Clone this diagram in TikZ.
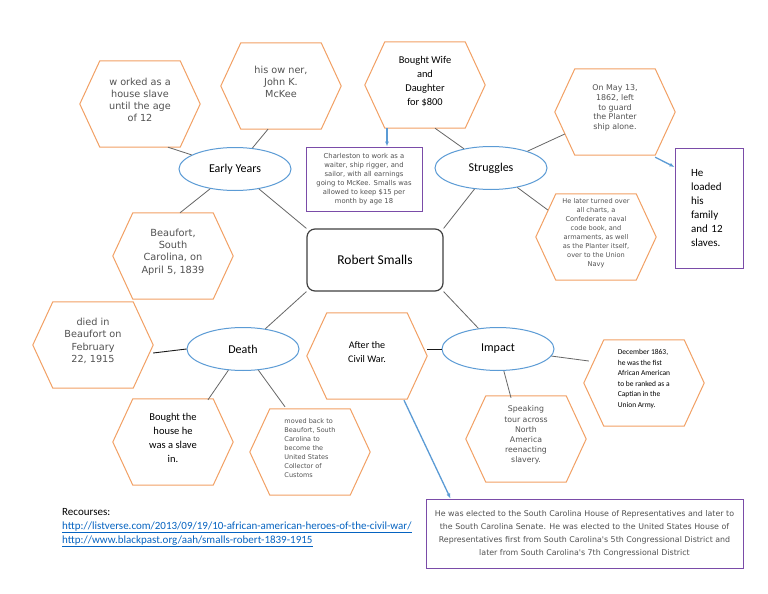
\documentclass[tikz,border=0pt]{standalone}
\usepackage{fontspec}
\setmainfont{Carlito}
\newfontfamily\verd{DejaVu Sans}
\usepackage{xcolor}
\usepackage{tikz}
\usetikzlibrary{arrows.meta,shapes.geometric}

\definecolor{hexorange}{RGB}{242,160,100}
\definecolor{ellblue}{RGB}{91,155,213}
\definecolor{boxpurple}{RGB}{122,76,168}
\definecolor{txtgrey}{RGB}{82,82,82}
\definecolor{linkblue}{RGB}{5,99,193}
\definecolor{arrblue}{RGB}{91,155,213}

\begin{document}
\begin{tikzpicture}[
      x=1pt, y=-1pt,
      hexa/.style={minimum width=120pt, minimum height=86pt, inner sep=0pt, align=center, text=txtgrey, font=\verd\fontsize{9.7}{12}\selectfont},
      topic/.style={ellipse, draw=ellblue, line width=1pt, minimum width=112pt, minimum height=43pt, inner sep=0pt, font=\fontsize{12}{14}\selectfont},
      note/.style={draw=boxpurple, line width=1pt, inner sep=0pt, align=center},
      link/.style={draw=black!60, line width=0.8pt},
      darklink/.style={draw=black!90, line width=0.9pt},
      blarr/.style={-{Latex[length=5pt,width=4pt]}, arrblue, line width=1.3pt},
    ]
    \fill[white] (0,0) rectangle (768,594);
    \useasboundingbox (0,0) rectangle (768,594);

    % centre and topics
    \node[draw=black!75, line width=1.2pt, rounded corners=8pt, minimum width=136pt, minimum height=62pt, font=\fontsize{13.5}{15}\selectfont] (rs) at (375,260) {Robert Smalls};
    \node[topic] (ey) at (235,169) {Early Years};
    \node[topic] (str) at (491,168) {Struggles};
    \node[topic] (dth) at (243,349) {Death};
    \node[topic] (imp) at (498,349) {Impact};

    % hexagons
    \node[hexa] (worked) at (140,100) {w orked as a\\house slave\\until the age\\of 12};
    \node[hexa] (owner) at (281,82) {his ow ner,\\John K.\\McKee};
    \node[hexa, text=black, font=\fontsize{10.4}{14}\selectfont] (wife) at (425,81) {Bought Wife\\and\\Daughter\\for \$800};
    \node[hexa, font=\verd\fontsize{7.9}{9.8}\selectfont] (may) at (615,108) {On May 13,\\1862, left\\to guard\\the Planter\\ship alone.};
    \node[hexa, font=\verd\fontsize{6.6}{9}\selectfont] (later) at (596,233) {He later turned over\\all charts, a\\Confederate naval\\code book, and\\armaments, as well\\as the Planter itself,\\over to the Union\\Navy};
    \node[hexa, font=\verd\fontsize{9.8}{12.2}\selectfont] (beau) at (173,252) {Beaufort,\\South\\Carolina, on\\April 5, 1839};
    \node[hexa, font=\verd\fontsize{9.7}{12.5}\selectfont] (died) at (93,341) {died in\\Beaufort on\\February\\22, 1915};
    \node[hexa, text=black, font=\fontsize{10.5}{14.2}\selectfont] (house) at (173,438) {Bought the\\house he\\was a slave\\in.};
    \node[hexa, align=left, font=\verd\fontsize{6.5}{8.9}\selectfont] (moved) at (310,448) {moved back to\\Beaufort, South\\Carolina to\\become the\\United States\\Collector of\\Customs};
    \node[hexa, text=black, font=\fontsize{10.1}{14.7}\selectfont] (civ) at (367,352) {After the\\Civil War.};
    \node[hexa, font=\verd\fontsize{7.8}{10.1}\selectfont] (speak) at (526,435) {Speaking\\tour across\\North\\America\\reenacting\\slavery.};
    \node[hexa, align=left, text=black, font=\fontsize{7.5}{10.5}\selectfont] (dec) at (644,379) {December 1863,\\he was the fist\\African American\\to be ranked as a\\Captian in the\\Union Army.};

    % hexagon outlines
    \foreach \h in {worked,owner,wife,may,later,beau,died,house,moved,civ,speak,dec}
      \draw[hexorange, line width=1pt, line join=round]
        ([xshift=20pt,yshift=-4pt]\h.north west) -- ([xshift=-20pt,yshift=-4pt]\h.north east) -- ([yshift=-4pt]\h.east)
        -- ([xshift=-20pt,yshift=-4pt]\h.south east) -- ([xshift=20pt,yshift=-4pt]\h.south west) -- ([yshift=-4pt]\h.west) -- cycle;

    % boxes
    \node[note, minimum width=116pt, minimum height=64pt, text=txtgrey, font=\verd\fontsize{6.8}{8.9}\selectfont] (chas) at (364,179) {Charleston to work as a\\waiter, ship rigger, and\\sailor, with all earnings\\going to McKee. Smalls was\\allowed to keep \$15 per\\month by age 18};
    \node[note, minimum width=68pt, minimum height=120pt, text width=36pt, align=left, font=\fontsize{11}{14}\selectfont] (load) at (709,208) {He\\loaded\\his\\family\\and 12\\slaves.};
    \node[note, minimum width=317pt, minimum height=69pt, text=txtgrey, font=\verd\fontsize{7.9}{13}\selectfont] (elect) at (584.5,533.5) {He was elected to the South Carolina House of Representatives and later to\\the South Carolina Senate. He was elected to the United States House of\\Representatives first from South Carolina's 5th Congressional District and\\later from South Carolina's 7th Congressional District};

    % sources
    \node[anchor=north west, inner sep=0pt, align=left, font=\fontsize{11}{14}\selectfont] (rec) at (62,508) {Recourses:\\
      \textcolor{linkblue}{\underline{http://listverse.com/2013/09/19/10-african-american-heroes-of-the-civil-war/}}\\
      \textcolor{linkblue}{\underline{http://www.blackpast.org/aah/smalls-robert-1839-1915}}};

    % connectors
    \draw[link] (ey) -- ([xshift=28pt,yshift=-4pt]worked.south);
    \draw[link] (ey) -- ([xshift=-13pt,yshift=-4pt]owner.south);
    \draw[link] (ey) -- ([xshift=7pt,yshift=-4pt]beau.north);
    \draw[link] (ey) -- (rs.north west);
    \draw[link] (str) -- ([xshift=10pt,yshift=-4pt]wife.south);
    \draw[link] (str) -- (rs.north east);
    \draw[link] (str) -- ([xshift=10pt,yshift=-26pt]may.west);
    \draw[link] (str) -- ([xshift=12pt,yshift=23pt]later.west);
    \draw[link] (dth) -- (rs.south west);
    \draw[darklink] (dth.west) -- ([yshift=-4pt]died.east |- dth.west);
    \draw[link] (dth) -- ([xshift=35pt,yshift=-5pt]house.north);
    \draw[link] (dth) -- ([xshift=-25pt,yshift=-2pt]moved.north);
    \draw[link] (imp) -- (rs.south east);
    \draw[darklink] (imp.west) -- (civ.east |- imp.west);
    \draw[link] (imp) -- ([xshift=-15pt,yshift=-6pt]speak.north);
    \draw[link] (imp) -- ([xshift=5pt,yshift=18pt]dec.west);

    % arrows
    \draw[blarr] ([xshift=-38pt,yshift=-4pt]wife.south) -- ([xshift=23pt]chas.north);
    \draw[blarr] ([xshift=-20pt,yshift=-6pt]may.south east) -- ([yshift=41pt]load.west);
    \draw[blarr] ([xshift=37pt,yshift=-5pt]civ.south) -- ([xshift=-134pt]elect.north);
  \end{tikzpicture}
\end{document}
